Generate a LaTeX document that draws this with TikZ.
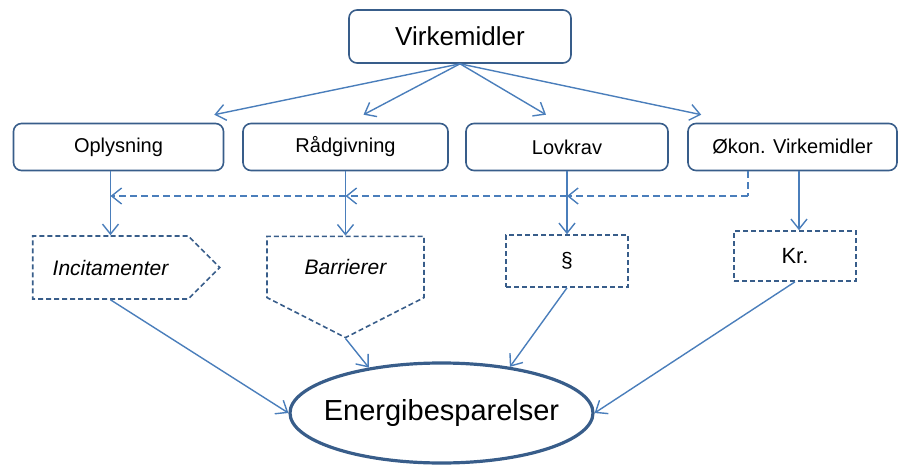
\documentclass[tikz,border=0pt]{standalone}
\usepackage{fontspec}
\setmainfont{Liberation Sans}
\usetikzlibrary{arrows.meta,shapes.geometric,shapes.symbols}
\definecolor{linkblue}{HTML}{4A7EBB}
\definecolor{edgeblue}{HTML}{385D8A}

\begin{document}
\begin{tikzpicture}[
			x=1pt,y=-1pt,
			tool/.style={draw=edgeblue,line width=1.6pt,rounded corners=8pt,inner sep=0pt,
					minimum height=47pt,font=\fontsize{20}{24}\selectfont},
			effect/.style={draw=edgeblue,line width=1.6pt,dash pattern=on 5pt off 3pt,inner sep=0pt,
					font=\fontsize{21}{25}\selectfont},
			link/.style={draw=linkblue,line width=1.4pt,-{Straight Barb[length=10pt,width=16pt]}},
			dashlink/.style={link,dash pattern=on 7pt off 4pt}
		]
		\useasboundingbox (0,0) rectangle (907,465);
		\node[tool,minimum width=222pt,minimum height=53pt,font=\fontsize{26}{30}\selectfont] (virk) at (460,36.5) {Virkemidler};
		\node[tool,minimum width=210pt] (opl) at (118.5,147) {Oplysning};
		\node[tool,minimum width=205pt] (rad) at (345.5,147) {Rådgivning};
		\node[tool,minimum width=202pt] (lov) at (567,147) {Lovkrav};
		\node[tool,minimum width=209pt] (okon) at (792.5,147) {Økon. Virkemidler};
		\node[effect,signal,signal to=east,signal pointer angle=90,minimum width=187pt,minimum height=63pt,
			font=\fontsize{21}{25}\itshape] (inc) at (110.5,267.5) {Incitamenter};
		\node[effect,signal,signal to=south,signal pointer angle=126,minimum width=157pt,minimum height=82pt,
			font=\fontsize{21}{25}\itshape] (bar) at (345.5,267) {Barrierer};
		\node[effect,minimum width=122pt,minimum height=52pt] (par) at (567,261) {§};
		\node[effect,minimum width=122pt,minimum height=50pt,font=\fontsize{22}{26}\selectfont] (kr) at (795,256) {Kr.};
		\node[ellipse,draw=edgeblue,line width=3.2pt,inner ysep=0pt,inner xsep=-11pt,minimum width=303pt,minimum height=100pt,
			font=\fontsize{29}{34}\selectfont] (energi) at (441.5,413) {Energibesparelser};

		\draw[link] (virk.south) -- ([xshift=-10pt,yshift=8pt]opl.north east);
		\draw[link] (virk.south) -- ([xshift=18pt,yshift=8pt]rad.north);
		\draw[link] (virk.south) -- ([xshift=-21pt,yshift=8pt]lov.north);
		\draw[link] (virk.south) -- ([xshift=14pt,yshift=8pt]okon.north west);

		\draw[link] (opl.south -| inc.north) -- (inc.north);
		\draw[link] (rad.south) -- (rad.south |- bar.north);
		\draw[link] (lov.south) -- (par.north);
		\draw[link] ([xshift=6.5pt]okon.south) -- ([xshift=6.5pt]okon.south |- kr.north);

		\coordinate (bus) at (748,196);
		\draw[dashlink,-] ([xshift=-44.5pt]okon.south) -- (bus);
		\draw[dashlink] (bus) -- (bus -| lov.south);
		\draw[dashlink] (bus -| lov.south) -- (bus -| rad.south);
		\draw[dashlink] (bus -| rad.south) -- (bus -| inc.north);

		\draw[link] (inc.south) -- (energi.west);
		\draw[link] (bar.south) -- (energi.148);
		\draw[link] (par.south) -- (energi.34);
		\draw[link] (kr.south) -- (energi.east);
	\end{tikzpicture}
\end{document}
